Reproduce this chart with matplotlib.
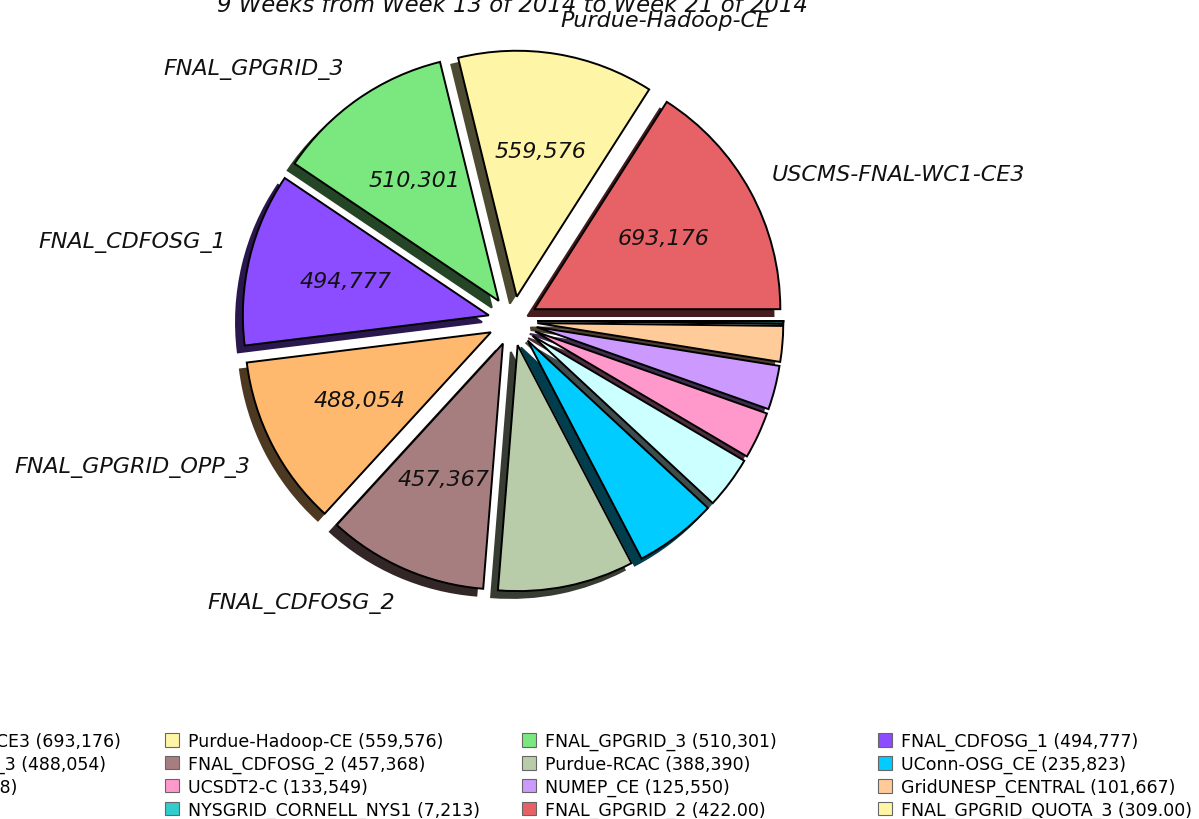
import matplotlib
matplotlib.use("Agg")
import matplotlib.pyplot as plt
from matplotlib.patches import Patch

# Data (wall hours per site)
sites = ["USCMS-FNAL-WC1-CE3", "Purdue-Hadoop-CE", "FNAL_GPGRID_3", "FNAL_CDFOSG_1",
         "FNAL_GPGRID_OPP_3", "FNAL_CDFOSG_2", "Purdue-RCAC", "UConn-OSG_CE",
         "Other sites", "UCSDT2-C", "NUMEP_CE", "GridUNESP_CENTRAL",
         "NYSGRID_CORNELL_NYS1", "FNAL_GPGRID_2", "FNAL_GPGRID_QUOTA_3"]
hours = [693176, 559576, 510301, 494777,
         488054, 457367.5, 388390, 235823,
         148898, 133549, 125550, 101667,
         7213, 422, 309]
colors = ["#e66266", "#fff5a6", "#7ae87f", "#8c4cff",
          "#ffb96e", "#a67e80", "#b8cca9", "#00ccff",
          "#ccffff", "#ff99cc", "#cc99ff", "#ffcc99",
          "#33cccc", "#e66266", "#fff5a6"]
title = "9 Weeks from Week 13 of 2014 to Week 21 of 2014"
n_labeled = 6  # only the biggest slices get a name and value


def fmt(v):
    if v >= 1000:
        return f"{v:,.0f}"
    return f"{v:,.2f}"


fig = plt.figure(figsize=(11.99, 8.2), dpi=100)
ax = fig.add_axes([0.1712, 0.2323, 0.5129, 0.75])

wedges, texts, autotexts = ax.pie(
    hours,
    labels=[s if i < n_labeled else "" for i, s in enumerate(sites)],
    colors=colors,
    explode=[0.1] * len(hours),
    shadow={"alpha": 1.0},
    startangle=0,
    autopct=lambda p: "",
    pctdistance=0.6,
    labeldistance=1.1,
    wedgeprops=dict(edgecolor="black", linewidth=1.4),
    textprops=dict(fontsize=16, style="italic", color="#111111"),
)
ax.set_aspect("equal")

for i, t in enumerate(autotexts):
    if i < n_labeled:
        t.set_text(f"{int(hours[i]):,}")

# names sit above the anchor in the top half, below it in the bottom half
for t in texts:
    x, y = t.get_position()
    t.set_va("bottom" if y > 0 else "top")
    if y > 0 and x > 0.8:
        t.set_y(y - 0.02)

fig.text(512.8 / 1199, 1 - 12 / 820, title, ha="center", va="baseline",
         fontsize=16.4, style="italic", color="#111111")

# legend: 4 evenly spaced columns, filled row by row
col_x = [-192, 165, 522, 878]
slots = list(range(12)) + [None] + [12, 13, 14]
for c in range(4):
    idx = [slots[c + 4 * r] for r in range(4) if slots[c + 4 * r] is not None]
    handles = [Patch(facecolor=colors[i], edgecolor="#666666", linewidth=0.8) for i in idx]
    labels = [f"{sites[i]} ({fmt(hours[i])})" for i in idx]
    fig.legend(handles, labels, loc="upper left",
               bbox_to_anchor=(col_x[c] / 1199, 1 - 733 / 820),
               frameon=False, borderpad=0, borderaxespad=0,
               handlelength=0.8, handleheight=0.8, handletextpad=0.5,
               labelspacing=0.27, fontsize=12.5)

fig.savefig("out.png", dpi=100)
